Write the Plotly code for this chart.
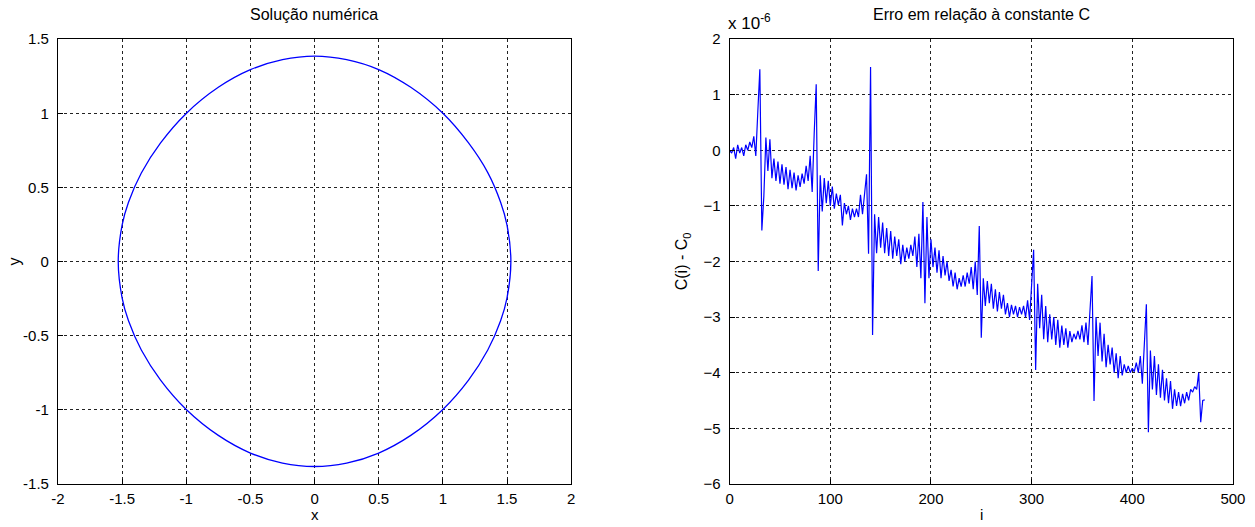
import numpy as np
import plotly.graph_objects as go

# Left panel: closed orbit of the numerical solution (x, y)
orbit_x = [1.53, 1.50, 1.45, 1.35, 1.20, 1.00, 0.75, 0.50, 0.25, 0.00,
           -0.25, -0.50, -0.75, -1.00, -1.20, -1.35, -1.45, -1.50, -1.53,
           -1.50, -1.45, -1.35, -1.20, -1.00, -0.75, -0.50, -0.25, 0.00,
           0.25, 0.50, 0.75, 1.00, 1.20, 1.35, 1.45, 1.50, 1.53]
orbit_y = [0.000, 0.245, 0.400, 0.600, 0.800, 1.000, 1.175, 1.295, 1.362, 1.386,
           1.362, 1.294, 1.175, 0.999, 0.800, 0.597, 0.400, 0.245, 0.000,
           -0.245, -0.400, -0.597, -0.800, -0.998, -1.173, -1.292, -1.360, -1.383,
           -1.360, -1.292, -1.173, -0.998, -0.800, -0.597, -0.400, -0.245, 0.000]

# Right panel: C(i) - C0, in units of 1e-6, sampled every 2 steps of i
err_step = 2
err_vals = [
    0.00, -0.05, 0.05, -0.15, 0.10, -0.05, 0.05, -0.10, 0.10, 0.00,
    0.15, 0.05, 0.25, -0.10, 0.70, 1.46, -1.44, -0.82, 0.23, -0.37,
    0.20, -0.50, -0.15, -0.55, -0.20, -0.60, -0.25, -0.62, -0.30, -0.70,
    -0.35, -0.68, -0.40, -0.72, -0.45, -0.66, -0.42, -0.60, -0.28, -0.55,
    -0.10, -0.75, 0.30, 1.19, -2.17, -0.45, -1.10, -0.50, -0.95, -0.55,
    -1.00, -0.65, -1.05, -0.78, -0.98, -0.80, -1.35, -0.95, -1.15, -1.00,
    -1.25, -1.05, -1.20, -1.05, -1.20, -0.80, -1.15, -0.75, -0.43, -1.86,
    1.50, -3.32, -1.15, -1.85, -1.20, -1.75, -1.30, -1.85, -1.40, -1.90,
    -1.45, -1.95, -1.55, -1.90, -1.60, -2.05, -1.70, -2.00, -1.75, -1.95,
    -1.70, -1.90, -1.55, -2.10, -1.50, -2.30, -0.93, -2.75, -1.20, -2.30,
    -1.60, -2.10, -1.75, -2.20, -1.80, -2.30, -1.90, -2.25, -2.00, -2.35,
    -2.15, -2.45, -2.20, -2.50, -2.30, -2.45, -2.25, -2.45, -2.20, -2.40,
    -2.10, -2.50, -2.00, -2.60, -1.36, -3.37, -2.30, -2.80, -2.35, -2.75,
    -2.40, -2.85, -2.50, -2.90, -2.55, -2.85, -2.60, -2.95, -2.75, -3.00,
    -2.78, -2.95, -2.80, -3.00, -2.82, -2.95, -2.80, -3.00, -2.70, -3.05,
    -2.45, -1.79, -3.95, -2.40, -3.20, -2.60, -3.40, -2.80, -3.45, -2.95,
    -3.40, -3.00, -3.50, -3.05, -3.55, -3.15, -3.50, -3.20, -3.55, -3.25,
    -3.45, -3.30, -3.40, -3.25, -3.40, -3.15, -3.45, -3.10, -3.50, -2.87,
    -2.26, -4.51, -3.00, -3.70, -3.10, -3.80, -3.30, -3.90, -3.50, -3.85,
    -3.55, -4.00, -3.65, -4.10, -3.70, -4.05, -3.85, -4.00, -3.88, -4.00,
    -3.92, -3.98, -3.82, -4.00, -3.70, -4.20, -3.38, -2.77, -5.07, -3.60,
    -4.30, -3.70, -4.40, -3.85, -4.45, -3.95, -4.50, -4.10, -4.55, -4.15,
    -4.65, -4.30, -4.60, -4.35, -4.60, -4.38, -4.55, -4.35, -4.50, -4.30,
    -4.35, -4.25, -4.30, -4.00, -4.89, -4.50, -4.49,
]
err_i = np.arange(len(err_vals)) * err_step

left_xticks = [-2, -1.5, -1, -0.5, 0, 0.5, 1, 1.5, 2]
left_yticks = [-1.5, -1, -0.5, 0, 0.5, 1, 1.5]
right_xticks = [0, 100, 200, 300, 400, 500]
right_yticks = [-6, -5, -4, -3, -2, -1, 0, 1, 2]

W, H = 1255, 527
FONT = "Liberation Sans, Arial, sans-serif"
BLUE = "#0000ff"

# The page is displayed with an 8 px body margin and then fitted to the
# window; these factors convert on-screen pixel positions to layout pixels.
SX, OX = 1255 / 1271, 8 * 1255 / 1271
SY, OY = 527 / 543, 8 * 527 / 543

def px_x(p):
    return ((p - OX) / SX) / W

def px_y(p):
    return 1 - ((p - OY) / SY) / H

fig = go.Figure()
fig.add_trace(go.Scatter(x=orbit_x, y=orbit_y, mode="lines",
                         line=dict(color=BLUE, width=1.3, shape="spline", smoothing=1.0),
                         xaxis="x", yaxis="y", showlegend=False, hoverinfo="skip"))
fig.add_trace(go.Scatter(x=err_i, y=err_vals, mode="lines",
                         line=dict(color=BLUE, width=1.2),
                         xaxis="x2", yaxis="y2", showlegend=False, hoverinfo="skip"))

TICK_SIZE = 15
axis_common = dict(
    showline=True, linecolor="black", linewidth=1, mirror=True,
    ticks="inside", ticklen=5, tickcolor="black",
    showgrid=True, gridcolor="#222222", gridwidth=1, griddash="3px,3px",
    zeroline=False, tickfont=dict(family=FONT, size=TICK_SIZE, color="black"),
    fixedrange=True,
)

ytop, ybot = px_y(38), px_y(484)
fig.update_layout(
    width=W, height=H,
    margin=dict(l=0, r=0, t=0, b=0),
    paper_bgcolor="white", plot_bgcolor="white",
    xaxis=dict(domain=[px_x(59), px_x(574)], range=[-2, 2], tickvals=left_xticks,
               ticktext=[f"{v:g}" for v in left_xticks], anchor="y",
               ticklabelstandoff=1, **axis_common),
    yaxis=dict(domain=[ybot, ytop], range=[-1.5, 1.5], tickvals=left_yticks,
               ticktext=[f"{v:g}" for v in left_yticks], anchor="x",
               ticklabelstandoff=5, **axis_common),
    xaxis2=dict(domain=[px_x(733), px_x(1238)], range=[0, 500], tickvals=right_xticks,
                anchor="y2", ticklabelstandoff=1, ticklabeloverflow="allow", **axis_common),
    yaxis2=dict(domain=[ybot, ytop], range=[-6, 2], tickvals=right_yticks,
                anchor="x2", ticklabelstandoff=5, **axis_common),
)

ann_font = dict(family=FONT, size=16, color="black")
label_font = dict(family=FONT, size=15, color="black")
annotations = [
    dict(text="Solução numérica", x=px_x(316), y=px_y(13), xanchor="center", yanchor="middle"),
    dict(text="Erro em relação à constante C", x=px_x(986), y=px_y(13), xanchor="center", yanchor="middle"),
    dict(text="x", x=px_x(317), y=0, xanchor="center", yanchor="bottom", yshift=-6, font=label_font),
    dict(text="y", x=px_x(15), y=px_y(261), xanchor="center", yanchor="middle", textangle=-90),
    dict(text="i", x=px_x(986), y=0, xanchor="center", yanchor="bottom", yshift=-6, font=label_font),
    dict(text="C(i) - C<sub>0</sub>", x=px_x(686), y=px_y(261), xanchor="center", yanchor="middle", textangle=-90),
    dict(text="x 10<sup>-6</sup>", x=px_x(729), y=px_y(21), xanchor="left", yanchor="middle",
         font=dict(family=FONT, size=17, color="black")),
]
for a in annotations:
    a.update(xref="paper", yref="paper", showarrow=False)
    a.setdefault("font", ann_font)
fig.update_layout(annotations=annotations)

fig.write_html("out.html")
